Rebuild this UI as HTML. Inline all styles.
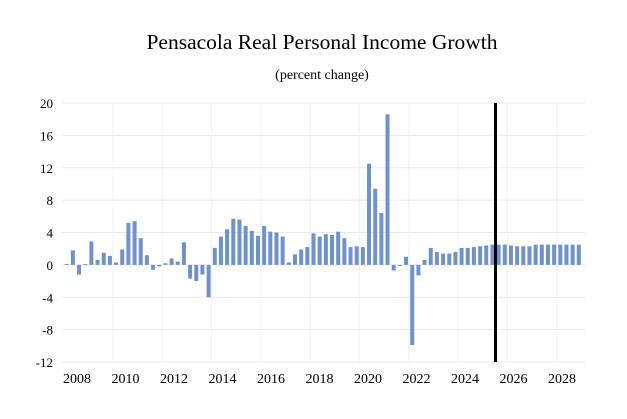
<!DOCTYPE html>
<html><head><meta charset="utf-8"><style>
body{margin:0;background:#fff;}
svg text{font-family:"Liberation Serif",serif;fill:#000;}
</style></head><body>
<svg id="chart" width="627" height="414">
<text x="322" y="49" font-size="21.5" text-anchor="middle">Pensacola Real Personal Income Growth</text>
<text x="322" y="79" font-size="14" text-anchor="middle">(percent change)</text>
<g id="grid"></g><g id="bars"></g><g id="axes"></g>
</svg>
<script>
const values=[0.1,1.8,-1.2,0.1,2.9,0.6,1.5,1.1,0.3,1.9,5.2,5.4,3.3,1.2,-0.6,-0.2,0.2,0.8,0.4,2.8,-1.7,-2.0,-1.2,-4.0,2.1,3.5,4.4,5.7,5.6,4.8,4.2,3.6,4.8,4.1,4.0,3.5,0.3,1.3,1.9,2.2,3.9,3.5,3.8,3.7,4.1,3.3,2.2,2.3,2.2,12.5,9.4,6.4,18.6,-0.7,-0.1,1.0,-9.9,-1.3,0.6,2.1,1.6,1.4,1.4,1.6,2.1,2.1,2.2,2.3,2.4,2.5,2.5,2.5,2.4,2.3,2.3,2.3,2.5,2.5,2.5,2.5,2.5,2.5,2.5,2.5];
const yTicks=[20,16,12,8,4,0,-4,-8,-12];
const yearLabels=["2008","2010","2012","2014","2016","2018","2020","2022","2024","2026","2028"];
const forecastIndex=69.5;
const NS="http://www.w3.org/2000/svg";
const L=62,R=585,T=103,B=362,yMax=20,yMin=-12;
const y=v=>T+(yMax-v)*(B-T)/(yMax-yMin);
const pitch=6.17,x0=66.7;
const x=i=>x0+i*pitch;
function mk(t,a,p){const e=document.createElementNS(NS,t);for(const k in a)e.setAttribute(k,a[k]);p.appendChild(e);return e;}
const grid=document.getElementById('grid'),bars=document.getElementById('bars'),axes=document.getElementById('axes');
yTicks.forEach(v=>{
 const g=mk('line',{x1:L,x2:R,y1:y(v),y2:y(v),stroke:'#e8e8e8','stroke-width':1},grid);
 
 
 const t=mk('text',{x:53,y:y(v)+5,'font-size':13,'text-anchor':'end'},axes);
 t.textContent=v;
 
 
});
yearLabels.forEach((s,k)=>{
 const gx=113+(k-1)*49.3;
 if(k>0){const g=mk('line',{x1:gx,x2:gx,y1:T,y2:B,stroke:'#f0f0f0','stroke-width':1},grid);
 
 }
 const t=mk('text',{x:77+k*48.5,y:383,'font-size':14,'text-anchor':'middle'},axes);
 t.textContent=s;
 
 
});
values.forEach((v,i)=>{
 const y0=y(0),yv=y(v);
 const r=mk('rect',{x:x(i)-2,y:Math.min(y0,yv),width:4,height:Math.max(1,Math.abs(yv-y0)),fill:'#7092c8'},bars);
 
 
});
const fl=mk('line',{x1:x(forecastIndex),x2:x(forecastIndex),y1:T,y2:B,stroke:'#000','stroke-width':3},axes);


</script>
</body></html>
